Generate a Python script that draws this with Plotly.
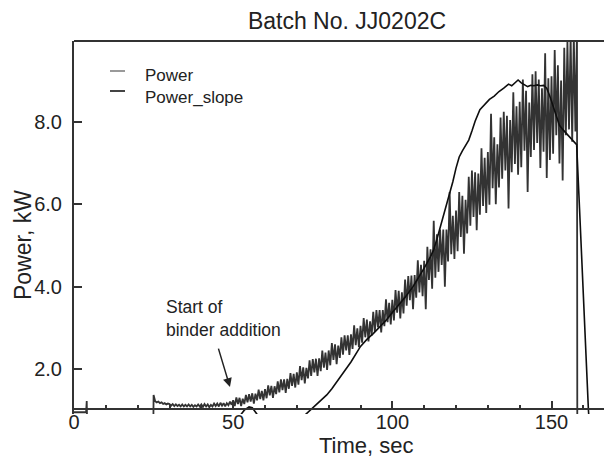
import plotly.graph_objects as go

# ---------------- data ----------------
TITLE = "Batch No. JJ0202C"
X_TITLE = "Time, sec"
Y_TITLE = "Power, kW"
X_TICKS = [0, 50, 100, 150]
X_TICK_LABELS = ["0", "50", "100", "150"]
Y_TICKS = [2, 4, 6, 8]
Y_TICK_LABELS = ["2.0", "4.0", "6.0", "8.0"]
LEGEND_NAMES = ["Power", "Power_slope"]
NOTE = ["Start of", "binder addition"]

# Power: lead-in before the record, main record sampled every 0.5 s from 25 s, then the cut-off
POWER_LEAD_T = [0.0, 2.0, 3.8, 4.0, 4.2, 24.9]
POWER_LEAD = [0.95, 0.95, 0.95, 1.22, 0.40, 0.40]
POWER_START = 25.0
POWER_STEP = 0.5
POWER_MAIN = [
    1.37, 1.22, 1.19, 1.21, 1.17, 1.19, 1.15, 1.17, 1.14, 1.16,
    1.15, 1.11, 1.15, 1.10, 1.14, 1.10, 1.13, 1.09, 1.14, 1.09,
    1.13, 1.09, 1.14, 1.09, 1.13, 1.08, 1.12, 1.09, 1.14, 1.09,
    1.14, 1.08, 1.15, 1.09, 1.14, 1.07, 1.13, 1.09, 1.16, 1.10,
    1.16, 1.09, 1.18, 1.11, 1.17, 1.09, 1.17, 1.12, 1.21, 1.13,
    1.24, 1.10, 1.31, 1.15, 1.30, 1.10, 1.28, 1.15, 1.37, 1.19,
    1.39, 1.21, 1.41, 1.16, 1.40, 1.24, 1.50, 1.27, 1.47, 1.24,
    1.51, 1.29, 1.60, 1.36, 1.59, 1.30, 1.58, 1.39, 1.70, 1.43,
    1.75, 1.49, 1.75, 1.42, 1.76, 1.52, 1.90, 1.59, 1.88, 1.55,
    1.92, 1.62, 2.07, 1.73, 2.04, 1.65, 2.03, 1.77, 2.21, 1.83,
    2.24, 1.92, 2.25, 1.83, 2.26, 1.95, 2.45, 2.03, 2.40, 1.98,
    2.45, 2.09, 2.63, 2.22, 2.60, 2.12, 2.57, 2.27, 2.77, 2.35,
    2.82, 2.45, 2.82, 2.34, 2.84, 2.49, 3.06, 2.58, 2.99, 2.53,
    3.05, 2.64, 3.24, 2.77, 3.20, 2.67, 3.16, 2.81, 3.39, 2.90,
    3.43, 3.01, 3.43, 2.89, 3.43, 3.04, 3.69, 3.14, 3.61, 3.08,
    3.68, 3.18, 3.92, 3.37, 3.90, 3.23, 3.86, 3.35, 4.17, 3.54,
    4.26, 3.67, 4.27, 3.45, 4.28, 3.73, 4.64, 3.86, 4.53, 3.77,
    4.63, 3.45, 4.97, 4.16, 4.91, 3.95, 5.60, 4.22, 5.27, 4.36,
    5.39, 4.53, 5.39, 4.00, 5.39, 4.61, 6.30, 4.79, 5.72, 4.67,
    5.85, 4.86, 6.30, 5.21, 6.21, 4.80, 6.11, 5.29, 6.67, 5.48,
    6.82, 5.69, 6.78, 5.37, 6.75, 5.75, 7.36, 5.96, 7.13, 5.79,
    7.27, 5.99, 8.20, 6.39, 7.63, 6.00, 7.46, 6.41, 8.11, 6.62,
    8.25, 6.82, 8.15, 5.90, 8.05, 6.78, 8.72, 6.98, 8.38, 6.72,
    8.49, 6.90, 9.03, 7.30, 8.76, 6.30, 8.47, 7.15, 9.16, 7.32,
    9.23, 7.49, 9.03, 6.88, 8.82, 7.28, 9.67, 6.64, 9.06, 7.08,
    9.11, 7.23, 9.75, 7.68, 9.38, 6.99, 9.01, 6.58, 9.80, 7.68,
    9.95, 7.82, 10.1, 7.52, 10.1, 7.77, 10.2,
]
POWER_TAIL_T = [158.1, 168.0]
POWER_TAIL = [0.30, 0.30]

SLOPE_T = [50, 52, 53.5, 55, 56, 57.5, 60, 65, 70, 74.2, 76, 78, 79.4, 81, 83, 85, 87,
           90, 92, 94, 96.2, 98, 100, 102, 104, 106.5, 108, 110, 112, 113, 114, 115,
           116, 117, 118, 119, 120, 121, 122, 123, 124, 125, 126, 127.5, 129, 130.5,
           132, 133.5, 135, 136.5, 137.5, 138.5, 139.5, 140.5, 141.5, 142.5, 143.5,
           144.5, 145.5, 146.5, 147.5, 148.5, 149.5, 150.5, 151.5, 152.5, 153.5,
           154.5, 155.5, 156.5, 157.5, 157.9, 158.8, 159.8, 160.8, 161.6, 162.2]
SLOPE = [0.50, 0.85, 1.00, 1.08, 1.06, 0.90, 0.70, 0.55, 0.70, 1.00, 1.12, 1.26, 1.37,
         1.52, 1.73, 1.94, 2.17, 2.55, 2.72, 2.86, 3.03, 3.18, 3.37, 3.55, 3.74, 4.00,
         4.18, 4.45, 4.73, 4.90, 5.15, 5.42, 5.70, 5.95, 6.22, 6.55, 6.88, 7.15, 7.30,
         7.44, 7.56, 7.78, 8.02, 8.30, 8.42, 8.55, 8.63, 8.74, 8.82, 8.92, 8.88, 8.96,
         9.02, 8.95, 8.90, 8.86, 8.89, 8.88, 8.90, 8.88, 8.89, 8.82, 8.62, 8.38, 8.12,
         7.92, 7.82, 7.74, 7.66, 7.58, 7.50, 7.45, 5.90, 4.10, 2.50, 1.00, 0.30]

ARROW_AT = (49.0, 1.56)  # point the "Start of binder addition" arrow touches

# ---------------- layout geometry ----------------
# The page body has an 8 px margin, so the figure is drawn 8 px smaller and
# all positions below are given in page pixels.
OFF = 8
W, H = 612 - OFF, 461 - OFF
L, R, T, B = 74 - OFF, 0, 41 - OFF, 47
PW, PH = W - L - R, H - T - B
X_RANGE = [0, 169.0]
Y_RANGE = [0.907, 9.967]
X_AXIS_AT = 1.03


def px(x):  # page x -> paper x
    return (x - OFF - L) / PW


def py(y):  # page y -> paper y
    return (H - B - (y - OFF)) / PH


FONT = "Liberation Sans, Arial, Helvetica, sans-serif"
INK = "#222222"

power_t = POWER_LEAD_T + [POWER_START + i * POWER_STEP for i in range(len(POWER_MAIN))] + POWER_TAIL_T
power_v = POWER_LEAD + POWER_MAIN + POWER_TAIL

fig = go.Figure()
fig.add_trace(go.Scatter(x=power_t, y=power_v, mode="lines", name=LEGEND_NAMES[0],
                         line=dict(color="#333333", width=1.8), showlegend=False,
                         hoverinfo="skip"))
fig.add_trace(go.Scatter(x=SLOPE_T, y=SLOPE, mode="lines", name=LEGEND_NAMES[1],
                         line=dict(color="#0e0e0e", width=1.6), showlegend=False,
                         hoverinfo="skip"))

fig.update_layout(
    width=W, height=H,
    margin=dict(l=L, r=R, t=T, b=B, pad=0, autoexpand=False),
    paper_bgcolor="white", plot_bgcolor="white",
    font=dict(family=FONT, color=INK, size=20),
    title=dict(text=TITLE, x=px(347), xref="paper", xanchor="center",
               y=1 - 13 / H, yref="container", yanchor="middle",
               font=dict(size=23, color=INK)),
    xaxis=dict(range=X_RANGE, anchor="free", automargin=False,
               position=(X_AXIS_AT - Y_RANGE[0]) / (Y_RANGE[1] - Y_RANGE[0]),
               showline=True, linecolor="#333", linewidth=2,
               ticks="inside", ticklen=7, tickwidth=2, tickcolor="#333",
               tickvals=X_TICKS, ticktext=X_TICK_LABELS, ticklabelstandoff=-5,
               tickfont=dict(size=20, color=INK),
               minor=dict(dtick=10, tick0=0, ticks="inside", ticklen=3, tickwidth=2,
                          tickcolor="#333", showgrid=False),
               showgrid=False, zeroline=False),
    yaxis=dict(range=Y_RANGE, automargin=False, showline=True, linecolor="#333", linewidth=2,
               ticks="inside", ticklen=8, tickwidth=2, tickcolor="#333",
               tickvals=Y_TICKS, ticktext=Y_TICK_LABELS, ticklabelstandoff=6,
               tickfont=dict(size=20, color=INK),
               showgrid=False, zeroline=False),
    showlegend=False,
)

shapes = [
    # top frame line
    dict(type="line", xref="paper", yref="paper", x0=0, x1=1, y0=1, y1=1,
         line=dict(color="#333", width=2)),
    # legend samples
    dict(type="line", xref="paper", yref="paper", x0=px(110), x1=px(125),
         y0=py(71), y1=py(71), line=dict(color="#9a9a9a", width=2)),
    dict(type="line", xref="paper", yref="paper", x0=px(110), x1=px(125),
         y0=py(91), y1=py(91), line=dict(color="#444", width=2)),
]
fig.update_layout(shapes=shapes)

ann = [
    dict(text=X_TITLE, xref="paper", yref="paper", x=px(366), y=py(460),
         xanchor="center", yanchor="bottom", showarrow=False, font=dict(size=22)),
    dict(text=Y_TITLE, xref="paper", yref="paper", x=px(23), y=py(245),
         xanchor="center", yanchor="middle", textangle=-90, showarrow=False,
         font=dict(size=23)),
    dict(text="<br>".join(NOTE), xref="paper", yref="paper", x=px(164), y=py(318),
         xanchor="left", yanchor="middle", align="left", showarrow=False,
         font=dict(size=17.5)),
    dict(text="", x=ARROW_AT[0], y=ARROW_AT[1], xref="x", yref="y",
         showarrow=True, ax=-12, ay=-40, arrowhead=2, arrowsize=1.2,
         arrowwidth=1.5, arrowcolor="#222", standoff=0),
    dict(text="<br>".join(LEGEND_NAMES), xref="paper", yref="paper", x=px(142.7), y=py(87),
         xanchor="left", yanchor="middle", align="left", showarrow=False,
         font=dict(size=17)),
]
fig.update_layout(annotations=ann)

fig.write_html("out.html")
